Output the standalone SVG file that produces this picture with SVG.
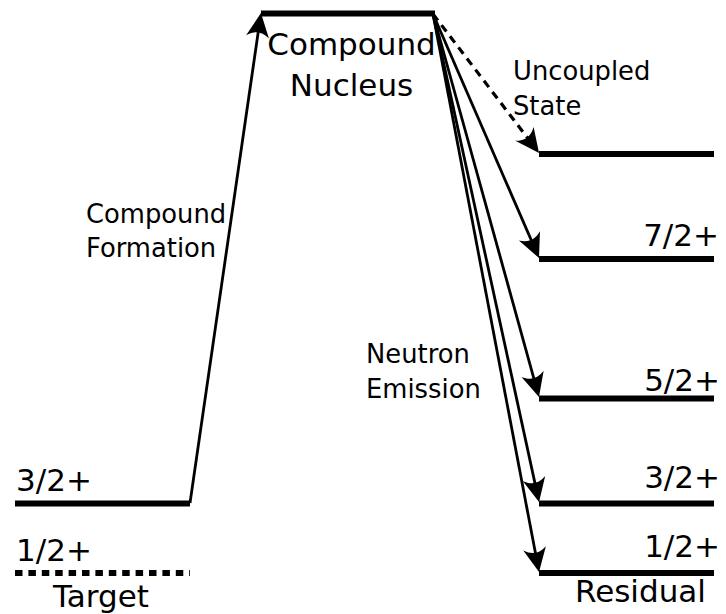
<svg xmlns="http://www.w3.org/2000/svg" width="726" height="614" viewBox="0 0 726 614">
<style>
.lvl{stroke:#000;stroke-width:5.8;fill:none}
.dot{stroke:#000;stroke-width:6;fill:none;stroke-dasharray:7.5 5.9}
.arr{stroke:#000;stroke-width:2.8;fill:none;marker-end:url(#ah)}
.dash{stroke-dasharray:8 6;stroke-width:3.2}
.big{font-family:"DejaVu Sans",sans-serif;font-size:31px;fill:#000}
.sm{font-family:"DejaVu Sans",sans-serif;font-size:25.8px;fill:#000}
</style>
<defs>
<marker id="ah" markerUnits="userSpaceOnUse" viewBox="-26 -13 32 26" refX="-4" refY="0" markerWidth="32" markerHeight="26" orient="auto" overflow="visible">
<path d="M0,0 L-24,-11.5 C-18,-3.5 -18,3.5 -24,11.5 Z" fill="#000"/>
</marker>
</defs>
<g id="compound-nucleus">
<line class="lvl" x1="261" y1="13.5" x2="435" y2="13.5"/>
<text class="big" x="351.5" y="55" text-anchor="middle">Compound</text>
<text class="big" x="351.5" y="96" text-anchor="middle">Nucleus</text>
</g>
<g id="target">
<line class="lvl" x1="15" y1="503.5" x2="190" y2="503.5"/>
<text class="big" x="16" y="491">3/2+</text>
<line class="dot" x1="15" y1="573" x2="190" y2="573"/>
<text class="big" x="16" y="561">1/2+</text>
<text class="big" x="53" y="607">Target</text>
</g>
<g id="residual">
<line class="lvl" x1="539" y1="154" x2="714" y2="154"/>
<line class="lvl" x1="539" y1="259" x2="714" y2="259"/>
<text class="big" x="719" y="246" text-anchor="end">7/2+</text>
<line class="lvl" x1="539" y1="398.5" x2="714" y2="398.5"/>
<text class="big" x="720" y="391" text-anchor="end">5/2+</text>
<line class="lvl" x1="539" y1="503.5" x2="714" y2="503.5"/>
<text class="big" x="720" y="488" text-anchor="end">3/2+</text>
<line class="lvl" x1="539" y1="573" x2="714" y2="573"/>
<text class="big" x="720" y="556.5" text-anchor="end">1/2+</text>
<text class="big" x="575" y="602">Residual</text>
</g>
<g id="labels">
<text class="sm" x="86" y="223">Compound</text>
<text class="sm" x="86" y="257">Formation</text>
<text class="sm" x="366" y="363">Neutron</text>
<text class="sm" x="366" y="398">Emission</text>
<text class="sm" x="513" y="80">Uncoupled</text>
<text class="sm" x="513" y="115">State</text>
</g>
<g id="connectors">
<line class="arr" x1="190" y1="503" x2="260.4" y2="17"/>
<line class="arr dash" x1="433" y1="14" x2="536.6" y2="149.8"/>
<line class="arr" x1="433" y1="14" x2="537.4" y2="254.3"/>
<line class="arr" x1="433" y1="14" x2="537.9" y2="393.1"/>
<line class="arr" x1="433" y1="14" x2="538.2" y2="498.1"/>
<line class="arr" x1="433" y1="14" x2="538.3" y2="568.1"/>
</g>
</svg>
